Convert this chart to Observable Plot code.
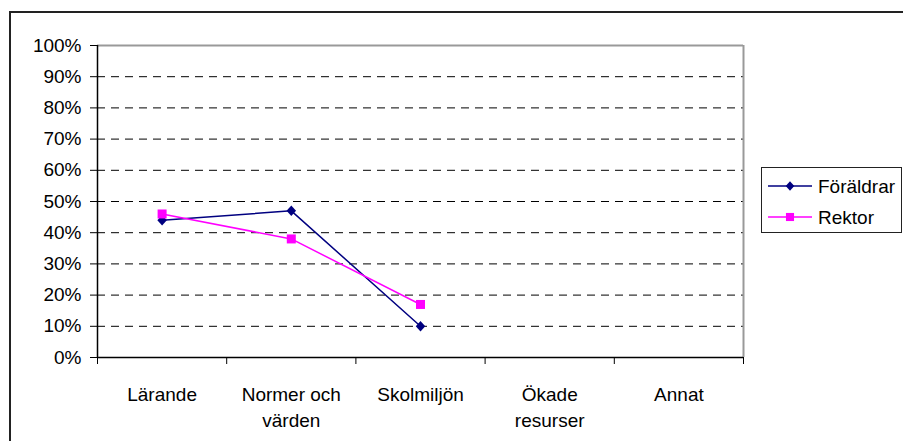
<!DOCTYPE html>
<html><head><meta charset="utf-8">
<script src="https://cdn.jsdelivr.net/npm/d3@7"></script>
<script src="https://cdn.jsdelivr.net/npm/@observablehq/plot@0.6"></script>
<style>
body{margin:0;background:#fff;}
#wrap{position:relative;width:903px;height:441px;overflow:hidden;font-family:"Liberation Sans",Arial,sans-serif;}
#frame{position:absolute;left:9px;top:11px;width:1000px;height:1000px;border:2px solid #222;}
#chart{position:absolute;left:0;top:0;}
#legend{position:absolute;left:761px;top:167px;width:141px;height:66px;border:1px solid #222;background:#fff;box-sizing:border-box;}
</style>
</head><body>
<div id="wrap"><div id="frame"></div><div id="chart"></div><div id="legend"></div></div>
<script>
const categories = ["Lärande", "Normer och\nvärden", "Skolmiljön", "Ökade\nresurser", "Annat"];
const seriesNames = ["Föräldrar", "Rektor"];
const seriesColors = ["#000080", "#FF00FF"];
const foraldrar = [0.44, 0.47, 0.10];
const rektor = [0.46, 0.38, 0.17];
const yTicks = [0, 0.1, 0.2, 0.3, 0.4, 0.5, 0.6, 0.7, 0.8, 0.9, 1.0];

const diamondSym = {draw(ctx, size){ const r = Math.sqrt(size/Math.PI); ctx.moveTo(0,-r*1.05); ctx.lineTo(r*0.95,0); ctx.lineTo(0,r*1.05); ctx.lineTo(-r*0.95,0); ctx.closePath(); }};
const squareSym = {draw(ctx, size){ const r = Math.sqrt(size/Math.PI)*0.9; ctx.rect(-r,-r,2*r,2*r); }};
const symbols = [diamondSym, squareSym];

const fRows = foraldrar.map((v,i)=>({i, v}));
const rRows = rektor.map((v,i)=>({i, v}));
const boundaries = d3.range(categories.length + 1).map(k => k - 0.5);

const chart = Plot.plot({
  width: 903, height: 441,
  marginLeft: 97, marginRight: 160, marginTop: 45, marginBottom: 84,
  style: {fontFamily: '"Liberation Sans", Arial, sans-serif', fontSize: "19px", background: "transparent", color: "#000"},
  x: {type: "linear", domain: [-0.5, categories.length - 0.5], ticks: boundaries, tickSize: 7, tickFormat: () => "", label: null},
  y: {domain: [0, 1], ticks: yTicks, tickFormat: ".0%", tickSize: 7, tickPadding: 9, label: null},
  marks: [
    Plot.ruleY(yTicks.filter(t => t > 0 && t < 1), {stroke: "#000", strokeWidth: 1, strokeDasharray: "8,6"}),
    Plot.ruleY([1], {stroke: "#999", strokeWidth: 2}),
    Plot.ruleX([categories.length - 0.5], {stroke: "#999", strokeWidth: 2}),
    Plot.ruleX([-0.5], {stroke: "#000", strokeWidth: 1.5}),
    Plot.ruleY([0], {stroke: "#000", strokeWidth: 1.5}),
    Plot.line(fRows, {x: "i", y: "v", stroke: seriesColors[0], strokeWidth: 1.5}),
    Plot.dot(fRows, {x: "i", y: "v", symbol: symbols[0], r: 5, fill: seriesColors[0], stroke: "none"}),
    Plot.line(rRows, {x: "i", y: "v", stroke: seriesColors[1], strokeWidth: 1.5}),
    Plot.dot(rRows, {x: "i", y: "v", symbol: symbols[1], r: 5, fill: seriesColors[1], stroke: "none"}),
    Plot.text(categories, {x: (d, i) => i, frameAnchor: "bottom", dy: 24.5, lineAnchor: "top", lineHeight: 1.4, fontSize: 19, fill: "#000"})
  ]
});
document.getElementById("chart").appendChild(chart);

// legend
const lg = d3.select("#legend").append("svg").attr("width", 139).attr("height", 64)
  .style("display", "block").style("font-family", '"Liberation Sans", Arial, sans-serif').style("font-size", "19px");
seriesNames.forEach((name, k) => {
  const y = 18 + k * 31;
  const g = lg.append("g");
  g.append("line").attr("x1", 6).attr("x2", 50).attr("y1", y).attr("y2", y).attr("stroke", seriesColors[k]).attr("stroke-width", 1.5);
  const p = d3.path();
  symbols[k].draw(p, 4.5 * 4.5 * Math.PI);
  g.append("path").attr("d", p.toString()).attr("transform", `translate(28,${y})`).attr("fill", seriesColors[k]);
  g.append("text").attr("x", 56).attr("y", y).attr("dy", "0.35em").attr("fill", "#000").text(name);
});
</script>
</body></html>
